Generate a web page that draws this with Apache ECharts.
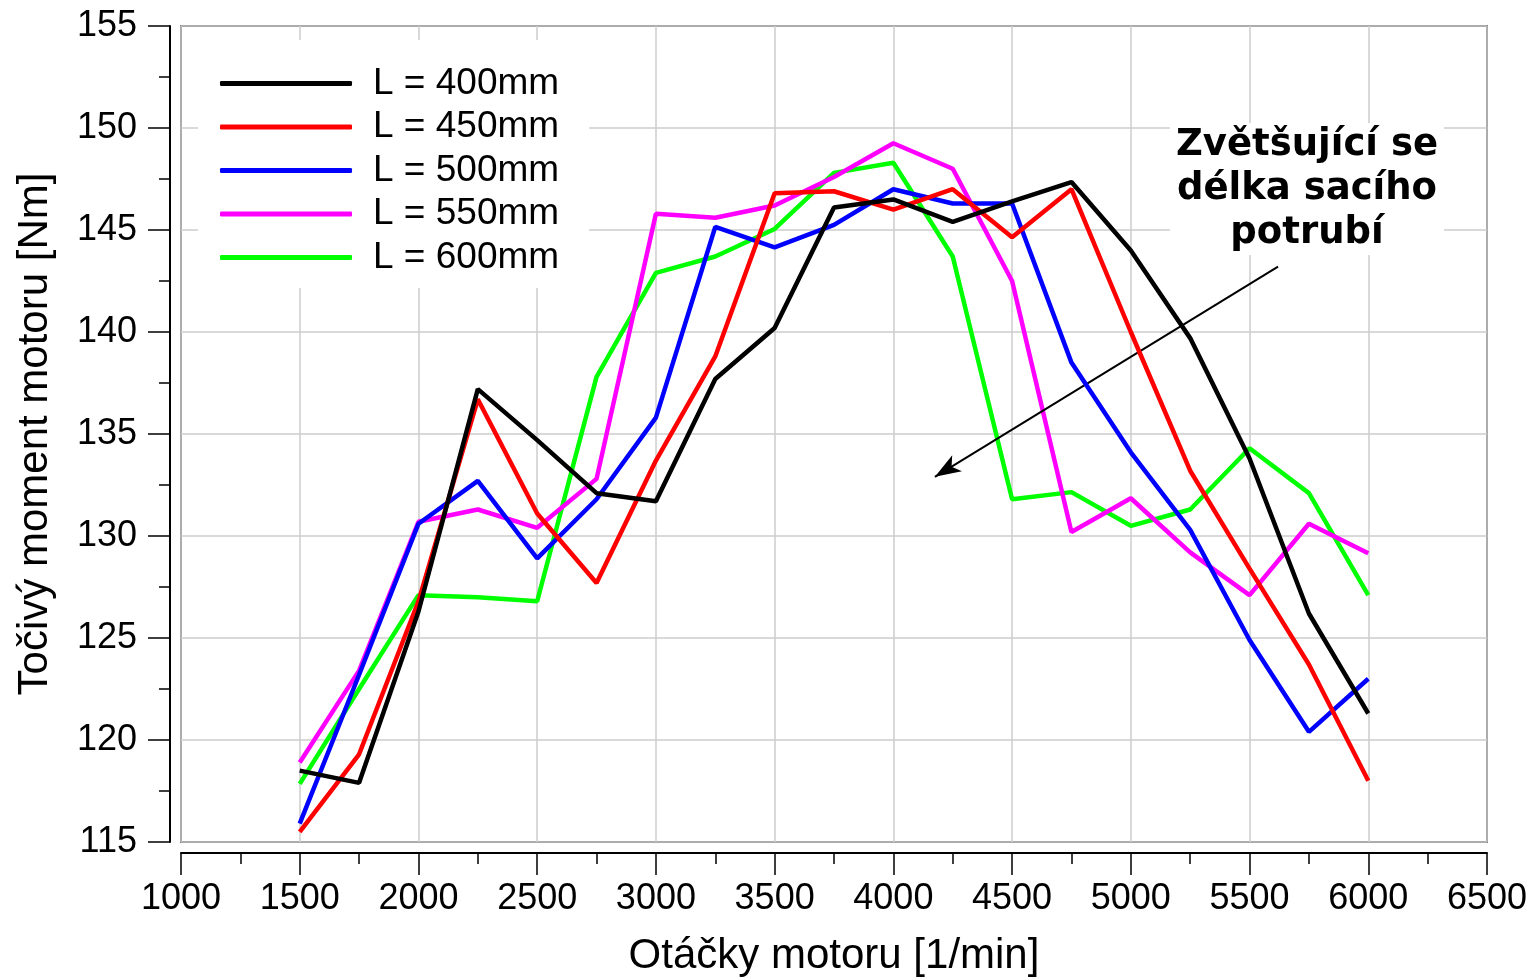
<!DOCTYPE html>
<html>
<head>
<meta charset="utf-8">
<script src="https://cdn.jsdelivr.net/npm/echarts@6/dist/echarts.min.js"></script>
<style>
html,body{margin:0;padding:0;background:#fff;overflow:hidden;}
#chart{width:1533px;height:978px;}
</style>
</head>
<body>
<div id="chart"></div>
<script>
const rpm = [1500,1750,2000,2250,2500,2750,3000,3250,3500,3750,4000,4250,4500,4750,5000,5250,5500,5750,6000];
const seriesNames = ['L = 400mm','L = 450mm','L = 500mm','L = 550mm','L = 600mm'];
const seriesColors = ['#000000','#ff0000','#0000ff','#ff00ff','#00ff00'];
const L400 = [118.5,117.9,126.3,137.2,134.7,132.1,131.7,137.7,140.2,146.1,146.5,145.4,146.4,147.35,144.0,139.7,133.8,126.2,121.3];
const L450 = [115.5,119.3,126.8,136.7,131.1,127.7,133.7,138.8,146.8,146.9,146.0,147.0,144.65,147.0,140.0,133.2,128.4,123.7,118.0];
const L500 = [115.9,123.2,130.6,132.7,128.9,131.8,135.8,145.15,144.15,145.25,147.0,146.3,146.3,138.5,134.1,130.3,124.9,120.4,123.0];
const L550 = [118.9,123.4,130.7,131.3,130.4,132.8,145.8,145.6,146.2,147.6,149.25,148.0,142.5,130.2,131.85,129.2,127.1,130.6,129.15];
const L600 = [117.85,122.5,127.1,127.0,126.8,137.8,142.9,143.7,145.05,147.8,148.3,143.7,131.8,132.15,130.5,131.3,134.3,132.1,127.1];
const allValues = [L400,L450,L500,L550,L600];
const annotationText = 'Zvětšující se\ndélka sacího\npotrubí';
const arrowFrom = [5620,143.2];
const arrowTo = [4175,132.9];
const xTitle = 'Otáčky motoru [1/min]';
const yTitle = 'Točivý moment motoru [Nm]';

const chart = echarts.init(document.getElementById('chart'), null, {renderer:'canvas', width:1533, height:978});
const FONT = '"Liberation Sans", Arial, sans-serif';

const series = seriesNames.map((name,i)=>{
  const s = {
    name: name,
    type: 'line',
    symbol: 'none',
    data: rpm.map((x,j)=>[x, allValues[i][j]]),
    lineStyle: {color: seriesColors[i], width: 4.5},
    itemStyle: {color: seriesColors[i]},
    animation: false,
    z: 3 + (4 - i)
  };
  if (i === 0) {
    s.markLine = {
      silent: true,
      symbol: ['none','arrow'],
      symbolSize: [14, 26],
      label: {show:false},
      lineStyle: {color:'#000', width:2, type:'solid'},
      data: [[{coord: arrowFrom}, {coord: arrowTo}]],
      animation: false
    };
  }
  return s;
});

const option = {
  animation: false,
  backgroundColor: '#fff',
  grid: {left:181, right:46, top:26, bottom:136, show:true, borderColor:'#111', borderWidth:1.5, backgroundColor:'transparent', containLabel:false, outerBoundsMode:'none'},
  legend: {
    show: true,
    orient: 'vertical',
    left: 198,
    top: 40,
    padding: [25, 30, 12, 22],
    backgroundColor: '#fff',
    itemWidth: 132,
    itemHeight: 5,
    itemGap: 6.5,
    data: seriesNames.map((n,i)=>({name:n, icon:'roundRect', itemStyle:{color:seriesColors[i]}})),
    textStyle: {fontFamily: FONT, fontSize: 37, color:'#000', lineHeight: 37, padding:[0,0,0,16]},
    selectedMode: false,
    z: 10
  },
  xAxis: {
    type: 'value',
    min: 1000, max: 6500, interval: 500,
    offset: 11,
    name: xTitle,
    nameLocation: 'middle',
    nameGap: 82,
    nameTextStyle: {fontFamily: FONT, fontSize: 42, color:'#000'},
    axisLine: {show:true, lineStyle:{color:'#000', width:2}},
    axisTick: {show:true, inside:false, length:22, lineStyle:{color:'#000', width:1.5}},
    minorTick: {show:true, splitNumber:2, length:11, lineStyle:{color:'#000', width:1.5}},
    axisLabel: {fontFamily: FONT, fontSize: 36, color:'#000', margin: 28, showMinLabel:true, showMaxLabel:true, formatter: v => String(v)},
    splitLine: {show:true, lineStyle:{color:'#cccccc', width:1.5}}
  },
  yAxis: {
    type: 'value',
    min: 115, max: 155, interval: 5,
    offset: 11,
    name: yTitle,
    nameLocation: 'middle',
    nameGap: 114,
    nameTextStyle: {fontFamily: FONT, fontSize: 42, color:'#000'},
    axisLine: {show:true, lineStyle:{color:'#000', width:2}},
    axisTick: {show:true, inside:false, length:22, lineStyle:{color:'#000', width:1.5}},
    minorTick: {show:true, splitNumber:2, length:11, lineStyle:{color:'#000', width:1.5}},
    axisLabel: {fontFamily: FONT, fontSize: 36, color:'#000', margin: 33, formatter: v => String(v)},
    splitLine: {show:true, lineStyle:{color:'#cccccc', width:1.5}}
  },
  graphic: [{
    type: 'text',
    x: 1307,
    y: 123,
    z: 20,
    style: {
      text: annotationText,
      font: 'bold 37px "DejaVu Sans", Verdana, sans-serif',
      fill: '#000',
      align: 'center',
      verticalAlign: 'top',
      lineHeight: 44,
      backgroundColor: '#fff',
      padding: [0, 6, 0, 6]
    }
  }],
  series: series
};
chart.setOption(option);
</script>
</body>
</html>
